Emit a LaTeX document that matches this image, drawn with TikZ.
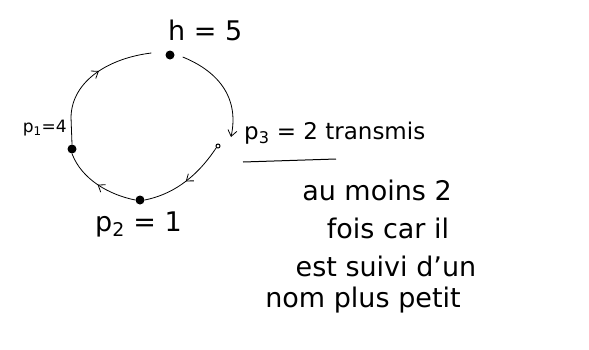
\documentclass[tikz,border=0pt]{standalone}
\usepackage{fontspec}
\setmainfont{DejaVu Sans}
\usetikzlibrary{decorations.markings,arrows.meta}
\begin{document}
\begin{tikzpicture}[x=1pt,y=-1pt,
  dotnode/.style={circle,fill=black,inner sep=0pt,minimum size=9pt},
  odot/.style={circle,draw=black,line width=1pt,inner sep=0pt,minimum size=4pt},
  hand/.style={font=\fontsize{27}{31}\selectfont,inner sep=0pt},
  handsmall/.style={font=\fontsize{17}{20}\selectfont,inner sep=0pt},
  handmid/.style={font=\fontsize{23}{27}\selectfont,inner sep=0pt},
  conn/.style={line width=0.8pt},
  midarrow/.style={postaction={decorate},decoration={markings,mark=at position 0.5 with {\arrow{Straight Barb[length=6pt,width=9pt]}}}}]
\useasboundingbox (0,0) rectangle (589,349);
\node[dotnode] (h) at (170,55) {};
\node[odot] (p3) at (218,146) {};
\node[dotnode] (p2) at (140,200) {};
\node[dotnode] (p1) at (72,149) {};
\coordinate (p3in) at (231,137);
\coordinate (p1top) at (71,117);
\node[hand,anchor=west] (hl) at (168,30) {h = 5};
\node[handsmall,anchor=east] (p1l) at (67,128) {p\textsubscript{1}=4};
\node[hand,anchor=west] (p2l) at (95,224) {p\textsubscript{2} = 1};
\node[handmid,anchor=west] (p3l) at (244,133) {p\textsubscript{3} = 2 transmis};
\draw[line width=1pt] (243,162) -- (336,159);
\node[hand] (l1) at (377,190) {au moins 2};
\node[hand] (l2) at (388,228) {fois car il};
\node[hand] (l3) at (386,266) {est suivi d'un};
\node[hand] (l4) at (363,300) {nom plus petit};
\draw[conn,-{Straight Barb[length=6pt,width=9pt]}] (h.east) ++(8,2) .. controls (215,70) and (240,95) .. (p3in);
\draw[conn,midarrow] (p3.south west) .. controls (195,180) and (170,195) .. (p2.east);
\draw[conn,midarrow] (p2.west) .. controls (110,195) and (82,180) .. (p1.south);
\draw[conn] (p1.north) -- (p1top);
\draw[conn,midarrow] (p1top) .. controls (72,80) and (110,58) .. ([xshift=-14pt,yshift=2pt]h.west);
\end{tikzpicture}
\end{document}
